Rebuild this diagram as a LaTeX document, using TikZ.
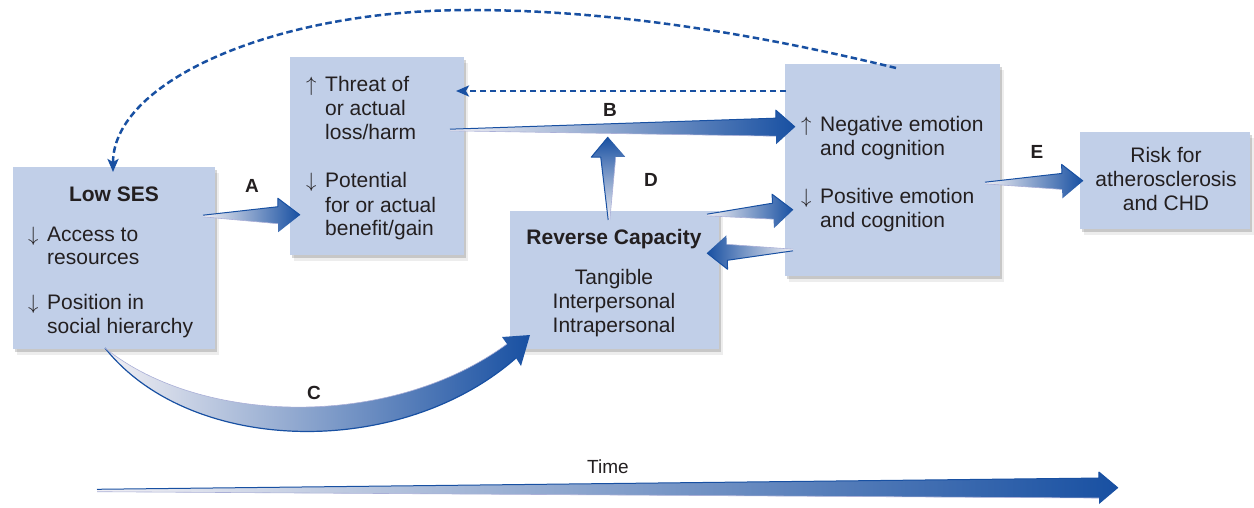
\documentclass[tikz,border=0pt]{standalone}
\usepackage{fontspec}
\setmainfont{Liberation Sans}
\usetikzlibrary{calc,arrows.meta,shadows}
\definecolor{boxfill}{RGB}{193,207,232}
\definecolor{dblue}{RGB}{24,80,162}
\definecolor{tailc}{RGB}{242,240,244}
\definecolor{txt}{RGB}{35,31,32}
\definecolor{edgelight}{RGB}{170,175,215}

% tapered, shaded arrow: #1 tail, #2 tip, #3 tail half width, #4 shaft half width,
% #5 head half width, #6 head length, #7 shading options
\newcommand\taperarrow[7]{%
  \coordinate (ah) at ($(#2)!#6!(#1)$);
  \path[#7] ($(#1)!#3!90:(#2)$) -- ($(ah)!#4!90:(#2)$) -- ($(ah)!#5!90:(#2)$) -- (#2)
     -- ($(ah)!#5!-90:(#2)$) -- ($(ah)!#4!-90:(#2)$) -- ($(#1)!#3!-90:(#2)$) -- cycle;
  \draw[edgelight, line width=0.6pt] ($(#1)!#3!-90:(#2)$) -- ($(ah)!#4!-90:(#2)$);
  \draw[dblue, line width=1pt, line join=round] ($(#1)!#3!90:(#2)$) -- ($(ah)!#4!90:(#2)$)
     -- ($(ah)!#5!90:(#2)$) -- (#2);
}

\tikzset{
  box/.style={fill=boxfill, draw=none, anchor=north west, inner sep=0pt,
    drop shadow={shadow xshift=4pt, shadow yshift=-6pt, opacity=0.07, fill=black},
    drop shadow={shadow xshift=2pt, shadow yshift=-3pt, opacity=0.16, fill=black}},
  t/.style={anchor=base west, inner sep=0pt, text=txt},
  tc/.style={anchor=base, inner sep=0pt, text=txt},
  lab/.style={inner sep=0pt, text=txt, font=\fontsize{19}{22}\selectfont\bfseries},
  dashline/.style={draw=dblue, line width=2.5pt, dash pattern=on 6.5pt off 3.5pt,
    -{Stealth[length=13pt, width=11pt, inset=3pt]}},
  fwd/.style={left color=tailc, right color=dblue},
  bwd/.style={left color=dblue, right color=tailc},
  upw/.style={bottom color=tailc, top color=dblue}
}

\begin{document}
\begin{tikzpicture}[x=1pt, y=-1pt, font=\fontsize{21}{24}\selectfont]
\useasboundingbox (0,0) rectangle (1254,508);

% boxes
\node[box, minimum width=202pt, minimum height=182pt] (ses) at (13,167) {};
\node[box, minimum width=174pt, minimum height=198pt] (threat) at (290,57) {};
\node[box, minimum width=209pt, minimum height=138pt] (rc) at (510,211) {};
\node[box, minimum width=215pt, minimum height=212pt] (emo) at (785,64) {};
\node[box, minimum width=170pt, minimum height=97pt] (risk) at (1080,132) {};

% Low SES text
\node[tc] (sesT) at (114,201) {\bfseries Low SES};
\node[t] (sesA0) at (28,241) {$\downarrow$};
\node[t] (sesA1) at (47,241) {Access to};
\node[t] (sesA2) at (47,265) {resources};
\node[t] (sesP0) at (28,309) {$\downarrow$};
\node[t] (sesP1) at (47,309) {Position in};
\node[t] (sesP2) at (47,333) {social hierarchy};

% threat text
\node[t] (thA0) at (306,92) {$\uparrow$};
\node[t] (thA1) at (325,92) {Threat of};
\node[t] (thA2) at (325,116) {or actual};
\node[t] (thA3) at (325,140) {loss/harm};
\node[t] (thB0) at (306,188) {$\downarrow$};
\node[t] (thB1) at (325,188) {Potential};
\node[t] (thB2) at (325,212) {for or actual};
\node[t] (thB3) at (325,236) {benefit/gain};

% reverse capacity text
\node[tc] (rcT) at (614,244) {\bfseries Reverse Capacity};
\node[tc] (rc1) at (614,284) {Tangible};
\node[tc] (rc2) at (614,308) {Interpersonal};
\node[tc] (rc3) at (614,332) {Intrapersonal};

% emotion text
\node[t] (emA0) at (801,132) {$\uparrow$};
\node[t] (emA1) at (820,132) {Negative emotion};
\node[t] (emA2) at (820,156) {and cognition};
\node[t] (emB0) at (801,204) {$\downarrow$};
\node[t] (emB1) at (820,204) {Positive emotion};
\node[t] (emB2) at (820,228) {and cognition};

% risk text
\node[tc] (rk1) at (1166,163) {Risk for};
\node[tc] (rk2) at (1166,187) {atherosclerosis};
\node[tc] (rk3) at (1166,211) {and CHD};

% arrow end points
\coordinate (aT) at (203,216);  \coordinate (aP) at (300,215);
\coordinate (bT) at (450,130);  \coordinate (bP) at (795,127);
\coordinate (dT) at (609,220);  \coordinate (dP) at (608,137);
\coordinate (fT) at (707,215);  \coordinate (fP) at (793,210);
\coordinate (gT) at (793,250);  \coordinate (gP) at (707,253);
\coordinate (eT) at (985,183);  \coordinate (eP) at (1083,181);
\coordinate (tT) at (97,490.5); \coordinate (tP) at (1118,488);

\taperarrow{aT}{aP}{0.8pt}{8.5pt}{17pt}{22pt}{fwd}
\taperarrow{bT}{bP}{0.8pt}{9pt}{17pt}{19pt}{fwd}
\taperarrow{dT}{dP}{0.8pt}{7.5pt}{17pt}{20pt}{upw}
\taperarrow{fT}{fP}{0.8pt}{8pt}{17pt}{20pt}{fwd}
\taperarrow{gT}{gP}{0.8pt}{8pt}{17pt}{20pt}{bwd}
\taperarrow{eT}{eP}{0.8pt}{8pt}{17pt}{21pt}{fwd}
\taperarrow{tT}{tP}{1.2pt}{10pt}{16pt}{19pt}{fwd}

% curved arrow C
\coordinate (cT) at (105,348);
\path[fwd] (cT) .. controls (190,455) and (400,460) .. (516,358) -- (521,366) -- (530,335)
   -- (502,337) -- (507,344) .. controls (390,430) and (200,425) .. (cT) -- cycle;
\draw[dblue, line width=1.2pt] (cT) .. controls (190,455) and (400,460) .. (516,358);
\draw[edgelight, line width=0.6pt] (507,344) .. controls (390,430) and (200,425) .. (cT);

% dashed connectors
\coordinate (fbS) at (786,91);
\coordinate (fbE) at (456,91);
\draw[dashline] (fbS) -- (fbE);
\coordinate (lpS) at (896,68);
\coordinate (lpE) at (113,172);
\draw[dashline] (lpS) .. controls (740,30) and (600,10) .. (470,10)
   .. controls (273,10) and (113,82) .. (lpE);

% labels
\node[lab] (labA) at (252,186) {A};
\node[lab] (labB) at (610,110) {B};
\node[lab] (labC) at (314,393) {C};
\node[lab] (labD) at (651,180) {D};
\node[lab] (labE) at (1037,152) {E};
\node[inner sep=0pt, text=txt, font=\fontsize{19}{22}\selectfont] (time) at (608,467) {Time};
\end{tikzpicture}
\end{document}
